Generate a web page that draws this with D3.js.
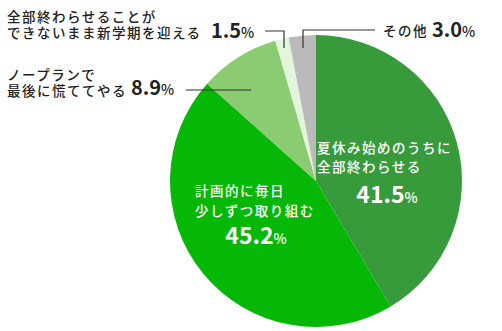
<!DOCTYPE html>
<html>
<head>
<meta charset="utf-8">
<script src="https://cdn.jsdelivr.net/npm/d3@7"></script>
<style>
body { margin: 0; background: #fff; }
text { font-family: "Noto Sans CJK JP", "Noto Sans", sans-serif; }
</style>
</head>
<body>
<div id="chart"></div>
<script>
// data, clockwise from 12 o'clock
var labels = [
    ["夏休み始めのうちに", "全部終わらせる"],
    ["計画的に毎日", "少しずつ取り組む"],
    ["ノープランで", "最後に慌ててやる"],
    ["全部終わらせることが", "できないまま新学期を迎える"],
    ["その他"]
];
var values = [41.5, 45.2, 8.9, 1.5, 3.0];
var colors = ["#379b3b", "#06b806", "#8bcb72", "#e3f5da", "#bababa"];

var w = 502, h = 331;
var cx = 316, cy = 181, r = 146;

var svg = d3.select("#chart")
    .append("svg")
    .attr("width", w)
    .attr("height", h);

var pie = d3.pie().sort(null).value(function(d) { return d; });
var arc = d3.arc().innerRadius(0).outerRadius(r);
var arcs = pie(values);

var g = svg.append("g")
    .attr("transform", "translate(" + cx + "," + cy + ")");

g.selectAll("path")
    .data(arcs)
    .enter()
    .append("path")
    .attr("d", arc)
    .attr("fill", function(d, i) { return colors[i]; });

// leader lines for the outside labels
var lines = [
    null, null,
    [[186, 90], [251, 90]],
    [[265, 31], [284, 31], [284, 48]],
    [[303, 48], [303, 30], [375, 30]]
];
var line = d3.line();
svg.selectAll(".leader")
    .data(lines.filter(function(d) { return d; }))
    .enter()
    .append("path")
    .attr("class", "leader")
    .attr("d", line)
    .attr("fill", "none")
    .attr("stroke", "#333")
    .attr("stroke-width", 1.2);

// label placement: x, first baseline, line gap, value anchor
var pos = [
    {x: 317, y: 153, dy: 19, inside: true, vx: 387, vy: 203, anchor: "middle", big: 23},
    {x: 195, y: 196, dy: 20, inside: true, vx: 256, vy: 244, anchor: "middle", big: 23},
    {x: 7, y: 80, dy: 16, inside: false, vx: 131, vy: 95, anchor: "start", big: 20},
    {x: 7, y: 22, dy: 16, inside: false, vx: 211, vy: 38, anchor: "start", big: 20},
    {x: 383, y: 36, dy: 16, inside: false, vx: 432, vy: 37, anchor: "start", big: 20}
];

labels.forEach(function(lab, i) {
    var p = pos[i];
    var fill = p.inside ? "#fff" : "#222";
    var t = svg.append("text")
        .attr("fill", fill)
        .attr("font-size", 13.5)
        .attr("font-weight", 500)
        .attr("letter-spacing", 1.5);
    lab.forEach(function(s, j) {
        t.append("tspan")
            .attr("x", p.x)
            .attr("y", p.y + j * p.dy)
            .text(s);
    });
    var v = svg.append("text")
        .attr("x", p.vx)
        .attr("y", p.vy)
        .attr("text-anchor", p.anchor)
        .attr("fill", fill)
        .attr("font-weight", 700);
    v.append("tspan")
        .attr("font-size", p.big)
        .text(d3.format(".1f")(values[i]));
    v.append("tspan")
        .attr("font-size", 14)
        .attr("font-weight", 500)
        .text("%");
});
</script>
</body>
</html>
